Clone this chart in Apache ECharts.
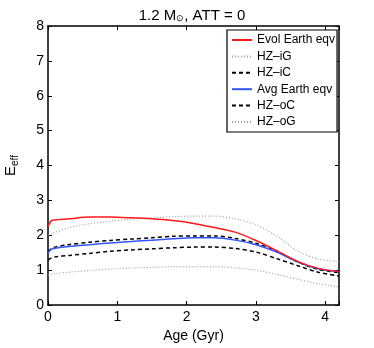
<!DOCTYPE html>
<html><head><meta charset="utf-8">
<script src="https://cdn.jsdelivr.net/npm/echarts@6/dist/echarts.min.js"></script>
<style>html,body{margin:0;padding:0;background:#fff}#c{width:374px;height:348px}</style>
</head><body><div id="c"></div>
<script>
const ages      = [0, 0.05, 0.1, 0.3, 0.6, 0.9, 1.2, 1.5, 1.8, 2.1, 2.4, 2.7, 3.0, 3.3, 3.6, 3.9, 4.2];
const evolEarth = [2.26, 2.42, 2.44, 2.47, 2.52, 2.52, 2.50, 2.47, 2.42, 2.34, 2.22, 2.09, 1.85, 1.56, 1.25, 1.05, 0.95];
const hzIG      = [2.00, 2.05, 2.08, 2.22, 2.33, 2.40, 2.46, 2.50, 2.53, 2.55, 2.55, 2.47, 2.30, 1.98, 1.55, 1.32, 1.24];
const hzIC      = [1.53, 1.62, 1.66, 1.73, 1.80, 1.85, 1.89, 1.93, 1.97, 1.98, 1.98, 1.91, 1.77, 1.55, 1.24, 1.02, 0.93];
const avgEarth  = [1.50, 1.60, 1.63, 1.68, 1.73, 1.78, 1.82, 1.86, 1.90, 1.93, 1.93, 1.86, 1.73, 1.52, 1.24, 1.04, 0.96];
const hzOC      = [1.29, 1.35, 1.38, 1.42, 1.48, 1.54, 1.58, 1.61, 1.64, 1.66, 1.66, 1.62, 1.52, 1.33, 1.13, 0.94, 0.83];
const hzOG      = [0.86, 0.88, 0.90, 0.94, 0.99, 1.03, 1.06, 1.08, 1.10, 1.10, 1.10, 1.07, 1.00, 0.88, 0.74, 0.61, 0.52];
const names = ['Evol Earth eqv', 'HZ\u2013iG', 'HZ\u2013iC', 'Avg Earth eqv', 'HZ\u2013oC', 'HZ\u2013oG'];
const xTicks = [0, 1, 2, 3, 4];
const yTicks = [0, 1, 2, 3, 4, 5, 6, 7, 8];

const font = 'Liberation Sans, Arial, Helvetica, sans-serif';
const pair = v => ages.map((a, i) => [a, v[i]]);
const styles = [
  {color: '#ff1a1a', width: 1.5, type: 'solid'},
  {color: '#a0a0a0', width: 1.2, type: [1, 2]},
  {color: '#000000', width: 1.5, type: [4, 3]},
  {color: '#3355ff', width: 1.5, type: 'solid'},
  {color: '#000000', width: 1.5, type: [4, 3]},
  {color: '#a0a0a0', width: 1.2, type: [1, 2]}
];
const dataSets = [evolEarth, hzIG, hzIC, avgEarth, hzOC, hzOG];
const series = dataSets.map((d, i) => ({
  name: names[i], type: 'line', data: pair(d), showSymbol: false, symbol: 'none',
  smooth: 0.3, lineStyle: styles[i], itemStyle: {color: styles[i].color}, z: i === 0 ? 5 : (i === 3 ? 4 : 3)
}));

const chart = echarts.init(document.getElementById('c'), null, {renderer: 'canvas'});
const axisLineS = {show: true, onZero: false, lineStyle: {color: '#000', width: 1.5}};
const tickS = {show: true, inside: true, length: 4, lineStyle: {color: '#000', width: 1}};
chart.setOption({
  animation: false,
  backgroundColor: '#fff',
  title: {
    text: '{a|1.2 M}{s|\u2299}{a|, ATT = 0}', left: 187, top: 3, textAlign: 'center',
    textStyle: {fontWeight: 'normal', rich: {
      a: {fontFamily: font, fontSize: 15, color: '#000', fontWeight: 'normal'},
      s: {fontFamily: font, fontSize: 9, color: '#000', fontWeight: 'normal', verticalAlign: 'bottom', padding: [6, 0, 0, 0]}
    }}
  },
  legend: {
    data: names, orient: 'vertical', left: 227, top: 30,
    backgroundColor: '#fff', borderColor: '#000', borderWidth: 1.2,
    padding: [4, 2, 4, 4], itemWidth: 20, itemHeight: 10, itemGap: 4.4,
    itemStyle: {color: 'rgba(0,0,0,0)', borderWidth: 0, borderColor: 'rgba(0,0,0,0)'},
    textStyle: {fontFamily: font, fontSize: 12, color: '#000'}
  },
  grid: {left: 48, top: 26, right: 35, bottom: 43, containLabel: false, outerBoundsMode: 'none'},
  xAxis: [{
    type: 'value', min: 0, max: 4.2, interval: 1,
    name: 'Age (Gyr)', nameLocation: 'middle', nameGap: 24,
    nameTextStyle: {fontFamily: font, fontSize: 14, color: '#000'},
    axisLine: axisLineS, axisTick: tickS,
    axisLabel: {fontFamily: font, fontSize: 14, color: '#000', margin: 5,
      formatter: v => xTicks.includes(v) ? String(v) : ''},
    splitLine: {show: false}
  }, {
    type: 'value', min: 0, max: 4.2, interval: 1, position: 'top',
    axisLine: axisLineS, axisTick: tickS,
    axisLabel: {show: false}, splitLine: {show: false}
  }],
  yAxis: [{
    type: 'value', min: 0, max: 8, interval: 1,
    name: '{e|E}{s|eff}', nameLocation: 'middle', nameGap: 28, nameRotate: 90,
    nameTextStyle: {rich: {
      e: {fontFamily: font, fontSize: 15, color: '#000'},
      s: {fontFamily: font, fontSize: 10, color: '#000', verticalAlign: 'bottom', padding: [8, 0, 0, 0]}
    }},
    axisLine: axisLineS, axisTick: tickS,
    axisLabel: {fontFamily: font, fontSize: 14, color: '#000', margin: 4,
      formatter: v => yTicks.includes(v) ? String(v) : ''},
    splitLine: {show: false}
  }, {
    type: 'value', min: 0, max: 8, interval: 1, position: 'right',
    axisLine: axisLineS, axisTick: tickS,
    axisLabel: {show: false}, splitLine: {show: false}
  }],
  series: series
});
</script></body></html>
